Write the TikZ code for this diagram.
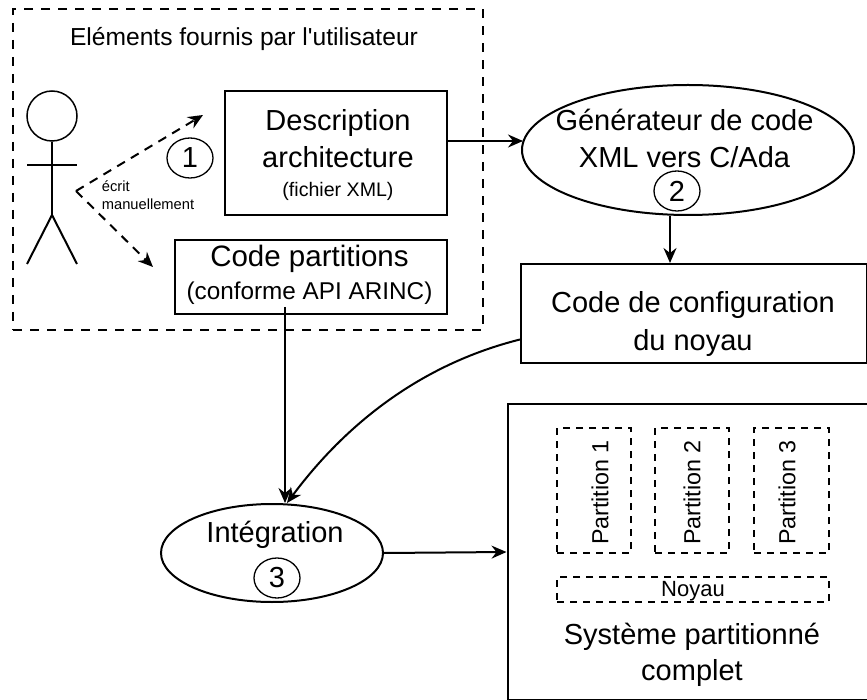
\documentclass[tikz,border=0pt]{standalone}
\usepackage{fontspec}
\setmainfont{Liberation Sans}
\newfontfamily\straightf{Liberation Sans}
\usetikzlibrary{calc,shapes.geometric,arrows.meta}
\newcommand{\fsz}[2]{\fontsize{#1}{#2}\selectfont}
\tikzset{
  boxs/.style={draw,line width=2pt,inner sep=0pt},
  ovals/.style={boxs,ellipse},
  labl/.style={inner sep=0pt,align=center,font=\fsz{29}{37}},
  nums/.style={draw,ellipse,line width=1.3pt,inner sep=0pt,minimum width=46pt,minimum height=40pt,font=\fsz{29}{29}},
  parts/.style={draw,dashed,line width=1.3pt,dash pattern=on 7pt off 6pt,inner sep=0pt},
  partl/.style={rotate=90,inner sep=0pt,font=\fsz{23.3}{23.3}},
  conn/.style={line width=2pt,-{Stealth[length=15pt,width=13pt,inset=5pt]}},
  dconn/.style={conn,dashed,dash pattern=on 9pt off 7pt},
  stick/.style={line width=2pt}
}
\begin{document}
\begin{tikzpicture}[x=1pt,y=-1pt]
  \useasboundingbox (0,0) rectangle (867,700);
  \node[parts,line width=1.5pt,dash pattern=on 9pt off 8pt,minimum width=470pt,minimum height=321pt] (user) at (248,169.5) {};
  \node[inner sep=0pt,font=\straightf\fsz{24.6}{24.6}] (userl) at (244,39) {Eléments fournis par l'utilisateur};
  % the actor
  \node[draw,circle,line width=1.5pt,minimum size=50pt,inner sep=0pt] (head) at (52,116) {};
  \coordinate (hip) at (52,215);
  \coordinate (larm) at (27,165);
  \coordinate (rarm) at (77,165);
  \coordinate (lfoot) at (27,264);
  \coordinate (rfoot) at (77,264);
  \draw[stick] (head.south) -- (hip);
  \draw[stick] (larm) -- (rarm);
  \draw[stick] (lfoot) -- (hip) -- (rfoot);
  \coordinate (hand) at (76,191);
  \coordinate (todesc) at (203,115);
  \coordinate (tocode) at (153,267);
  \node[boxs,minimum width=222pt,minimum height=124pt] (desc) at (336,153) {};
  \node[labl] (descl) at ($(desc.center)+(2,2)$) {Description\\architecture\\[-8pt]\fsz{19.6}{19.6}(fichier XML)};
  \node[boxs,minimum width=272pt,minimum height=74pt] (code) at (311,277) {};
  \node[labl,font=\fsz{29.5}{33}] (codel) at ($(code.center)+(-1.5,-2.5)$) {Code partitions\\\fsz{24.3}{30}(conforme API ARINC)};
  \node[nums] (one) at (190,158) {1};
  \node[align=left,inner sep=0pt,font=\fsz{14.7}{18}] (ecrit) at (148,195) {écrit\\manuellement};
  \draw[dconn] (hand) -- (todesc);
  \draw[dconn] (hand) -- (tocode);
  \node[ovals,minimum width=332pt,minimum height=130pt] (gen) at (688,150) {};
  \node[labl] (genl) at ($(gen.center)+(-3.5,-12)$) {Générateur de code\\XML vers C/Ada};
  \node[nums] (two) at (677,191) {2};
  \node[boxs,minimum width=346pt,minimum height=99pt] (config) at (694,313.5) {};
  \node[labl,font=\fsz{29}{38}] (configl) at ($(config.center)+(-1,10.5)$) {Code de configuration\\du noyau};
  \node[ovals,minimum width=222pt,minimum height=98pt] (integ) at (272,553) {};
  \node[labl] (integl) at ($(integ.center)+(3,-18.5)$) {Intégration};
  \node[nums] (three) at (277,578) {3};
  \node[boxs,minimum width=362pt,minimum height=296pt] (sys) at (688.5,552) {};
  \node[parts,minimum width=74pt,minimum height=125pt] (part1) at (594,490.5) {};
  \node[parts,minimum width=74pt,minimum height=125pt] (part2) at (692,490.5) {};
  \node[parts,minimum width=75pt,minimum height=125pt] (part3) at (791.5,490.5) {};
  \node[partl] (part1l) at ($(part1.center)+(6,2)$) {Partition 1};
  \node[partl] (part2l) at ($(part2.center)+(0,2)$) {Partition 2};
  \node[partl] (part3l) at ($(part3.center)+(-4.5,2)$) {Partition 3};
  \node[parts,minimum width=272pt,minimum height=25pt] (noyau) at (693,589.5) {};
  \node[inner sep=0pt,font=\fsz{22}{22}] (noyaul) at ($(noyau.center)+(0,1.5)$) {Noyau};
  \node[labl,font=\fsz{29}{36}] (sysl) at (692,655) {Système partitionné\\complet};
  % connectors
  \draw[conn] ($(desc.east)+(0,-12)$) -- ($(gen.west)+(2,-9)$);
  \draw[conn] ($(gen.south)+(-18,0)$) -- ($(config.north)+(-24,0)$);
  \draw[conn] ($(code.south)+(-26,-8)$) -- ($(integ.north)+(13,0)$);
  \draw[conn] ($(config.west)+(0,26)$).. controls +(-100,25) and +(58,-78) .. ($(integ.north)+(15,0)$);
  \draw[conn] (integ.east) -- (sys.west);
\end{tikzpicture}
\end{document}
